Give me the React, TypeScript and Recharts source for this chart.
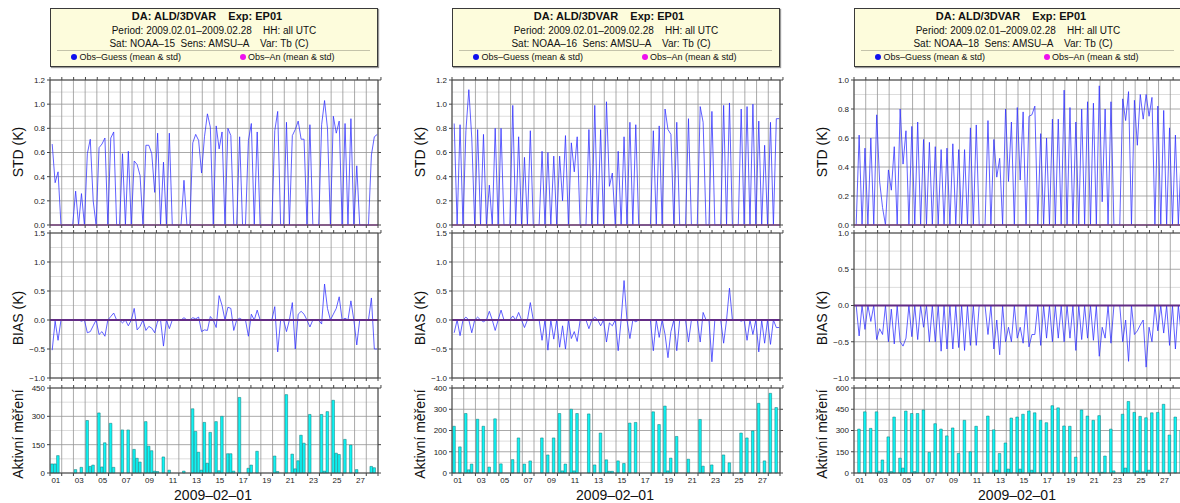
import React from 'react'
import { ComposedChart, Line, Bar, XAxis, YAxis, CartesianGrid, ReferenceLine } from 'recharts'

// 6-hourly values, 2009-02-01 00 UTC .. 2009-02-28 18 UTC (4 per day, 8 per row)
const DAY_LABELS = ['01', '03', '05', '07', '09', '11', '13', '15', '17', '19', '21', '23', '25', '27']

const STD_15 = [
  0.67, 0.35, 0.44, 0, 0, 0, 0, 0,
  0.28, 0, 0.26, 0, 0.59, 0.71, 0.2, 0,
  0.64, 0.67, 0.72, 0, 0.72, 0.77, 0, 0,
  0.59, 0, 0.61, 0, 0.53, 0.5, 0.41, 0,
  0.66, 0.66, 0.59, 0.27, 0.76, 0, 0.52, 0,
  0.76, 0, 0, 0, 0, 0.37, 0, 0,
  0.68, 0.75, 0.7, 0.43, 0.73, 0.92, 0.81, 0,
  0.82, 0.63, 0.77, 0, 0.8, 0.74, 0, 0,
  0.73, 0, 0, 0.7, 0.84, 0, 0.77, 0,
  0, 0, 0, 0, 0.78, 0.94, 0, 0,
  0.85, 0, 0.74, 0.79, 0.86, 0.71, 0.71, 0,
  0.83, 0, 0, 0, 0.83, 1.03, 0.8, 0,
  0.9, 0.76, 0.86, 0, 0.84, 0, 0.88, 0,
  0.49, 0, 0, 0, 0, 0.58, 0.73, 0.75,
]
const BIAS_15 = [
  -0.52, -0.02, -0.35, 0, 0, 0, 0, 0,
  0, 0, -0.02, 0, -0.22, -0.2, -0.1, 0,
  -0.25, -0.2, -0.28, 0, 0.06, 0.12, 0, 0,
  -0.05, 0, -0.1, 0, 0.2, -0.17, -0.11, 0,
  -0.18, -0.11, -0.14, -0.22, -0.02, 0, -0.45, 0,
  -0.15, 0, 0, 0, 0, 0.04, 0, 0,
  0.04, 0.02, 0.05, -0.2, -0.17, -0.18, 0.06, 0,
  -0.13, 0.42, 0.25, 0, 0.22, 0.2, -0.18, 0,
  0.03, 0, 0, -0.28, 0.1, 0, 0.17, 0,
  0, 0, 0, 0, 0.23, -0.55, 0, 0,
  -0.2, 0, 0.3, -0.5, 0.1, 0.15, 0.1, 0,
  -0.12, 0, 0, 0, -0.07, 0.62, 0.2, 0,
  0.1, 0.2, 0.4, 0, 0.03, 0, 0.33, 0,
  -0.43, 0, 0, 0, 0, 0.38, -0.5, -0.5,
]
const COUNT_15 = [
  48, 48, 92, 0, 0, 0, 0, 0,
  18, 0, 30, 0, 278, 35, 42, 0,
  318, 32, 160, 0, 263, 30, 0, 0,
  228, 0, 228, 0, 125, 78, 58, 0,
  272, 142, 118, 10, 8, 0, 85, 0,
  15, 0, 0, 0, 0, 10, 0, 0,
  340, 220, 110, 15, 268, 52, 215, 0,
  272, 12, 300, 0, 102, 102, 10, 0,
  400, 0, 0, 25, 42, 0, 115, 0,
  0, 0, 0, 0, 90, 8, 0, 0,
  415, 0, 100, 22, 65, 200, 158, 0,
  310, 0, 0, 0, 310, 10, 325, 0,
  385, 105, 98, 0, 178, 0, 148, 0,
  18, 0, 0, 0, 0, 35, 28, 0,
]

const STD_16 = [
  0.84, 0, 0.83, 0, 0.78, 1.12, 0.72, 0,
  0.79, 0, 0.75, 0, 0.33, 0, 0.8, 0,
  0.8, 0, 0, 0, 0.99, 0, 0.73, 0,
  0.56, 0, 0.78, 0, 0, 0, 0.61, 0,
  0.6, 0, 0.57, 0, 0.57, 0.2, 0.74, 0,
  0.68, 0.44, 0.73, 0, 0, 0, 0.79, 0,
  0.99, 0, 0.79, 0, 1.02, 0.32, 0.43, 0,
  0.61, 0, 0.73, 0, 0.85, 0, 0.83, 0,
  0, 0, 0, 0, 0.78, 0, 0.82, 0,
  0.96, 0.79, 0.75, 0, 0.85, 0, 0, 0,
  0.88, 0, 0, 0, 0.98, 0.85, 0, 0,
  0.94, 0, 0, 0, 0.99, 0, 1.01, 0,
  0, 0, 0.96, 0, 0.98, 0, 1.0, 0,
  0.86, 0, 0.66, 0, 0.85, 0, 0.88, 0.88,
]
const BIAS_16 = [
  -0.22, 0, -0.27, 0, 0.05, 0, -0.22, 0,
  0.05, 0, -0.03, 0, 0.15, 0, -0.18, 0,
  0.17, 0, 0, 0, 0.07, 0, 0.13, 0,
  -0.13, 0, 0.3, 0, 0, 0, -0.35, 0,
  -0.52, 0, -0.33, 0, -0.47, -0.1, -0.5, 0,
  -0.32, -0.2, -0.37, 0, 0, 0, -0.15, 0,
  0.05, 0, -0.1, 0, -0.38, -0.05, -0.1, 0,
  -0.53, 0, 0.68, 0, -0.32, 0, -0.03, 0,
  0, 0, 0, 0, -0.53, 0, -0.3, 0,
  -0.25, -0.65, -0.2, 0, -0.53, 0, 0, 0,
  -0.38, 0, 0, 0, -0.38, 0.13, 0, 0,
  -0.72, 0, 0, 0, -0.4, 0, 0.55, 0,
  0, 0, -0.02, 0, -0.35, 0, -0.25, 0,
  -0.55, 0, -0.4, 0, -0.42, 0, -0.13, -0.13,
]
const COUNT_16 = [
  220, 0, 123, 0, 280, 15, 42, 0,
  253, 0, 220, 0, 28, 0, 255, 0,
  43, 0, 0, 0, 63, 0, 165, 0,
  42, 0, 57, 0, 0, 0, 165, 0,
  85, 0, 165, 0, 280, 10, 42, 0,
  300, 10, 280, 0, 0, 0, 278, 0,
  38, 0, 188, 0, 62, 8, 8, 0,
  57, 0, 45, 0, 235, 0, 238, 0,
  0, 0, 0, 0, 288, 0, 228, 0,
  315, 10, 70, 0, 172, 0, 0, 0,
  65, 0, 0, 0, 252, 32, 0, 0,
  38, 0, 0, 0, 85, 0, 48, 0,
  0, 0, 188, 0, 165, 0, 198, 0,
  328, 0, 57, 0, 375, 0, 308, 0,
]

const STD_18 = [
  0, 0.62, 0, 0.53, 0, 0.6, 0, 0.76,
  0.3, 0.12, 0, 0.38, 0.24, 0.54, 0, 0.8,
  0.42, 0.65, 0, 0.68, 0, 0.71, 0, 0.59,
  0, 0.57, 0, 0.54, 0, 0.52, 0, 0.53,
  0, 0.56, 0, 0.52, 0, 0.52, 0, 0.67,
  0, 0.69, 0, 0, 0, 0.72, 0, 0.59,
  0.33, 0.46, 0, 0.8, 0.3, 0.71, 0, 0.81,
  0.31, 0.78, 0, 0.75, 0.76, 0.82, 0, 0.63,
  0, 0.6, 0, 0.73, 0, 0.73, 0, 0.93,
  0, 0.81, 0, 0.71, 0, 0.8, 0, 0.85,
  0, 0.84, 0, 0.96, 0.16, 0.8, 0, 0.85,
  0, 0, 0, 0.87, 0.72, 0.92, 0, 0.86,
  0.55, 0.9, 0.73, 0.9, 0.75, 0.88, 0, 0.82,
  0, 0.79, 0, 0.67, 0, 0.62, 0, 0.5,
]
const BIAS_18 = [
  0, -0.42, 0, -0.33, 0, -0.22, 0, -0.47,
  -0.32, -0.4, 0, -0.5, -0.05, -0.53, 0, -0.5,
  -0.56, -0.45, 0, -0.43, 0, -0.47, 0, -0.3,
  0, -0.5, 0, -0.5, 0, -0.63, 0, -0.6,
  0, -0.6, 0, -0.58, 0, -0.62, 0, -0.55,
  0, -0.55, 0, 0, 0, -0.4, 0, -0.6,
  -0.2, -0.68, 0, -0.5, -0.3, -0.5, 0, -0.45,
  -0.3, -0.52, 0, -0.57, -0.4, -0.4, 0, -0.55,
  0, -0.45, 0, -0.5, 0, -0.45, 0, -0.5,
  0, -0.45, 0, -0.62, 0, -0.47, 0, -0.45,
  0, -0.48, 0, -0.7, -0.3, -0.45, 0, -0.52,
  0, 0, 0, -0.5, -0.2, -0.77, 0, -0.4,
  -0.35, -0.27, -0.2, -0.85, -0.3, -0.5, 0, -0.35,
  0, -0.38, 0, -0.55, 0, -0.6, 0, -0.4,
]
const COUNT_18 = [
  0, 310, 0, 432, 0, 315, 0, 432,
  12, 92, 0, 255, 10, 395, 0, 105,
  35, 437, 0, 420, 10, 420, 0, 445,
  0, 145, 0, 348, 0, 310, 0, 262,
  0, 318, 0, 138, 0, 372, 0, 150,
  0, 330, 0, 0, 0, 402, 0, 305,
  20, 138, 0, 212, 28, 388, 0, 395,
  28, 415, 0, 438, 20, 425, 0, 372,
  0, 355, 0, 475, 0, 460, 0, 332,
  0, 330, 0, 112, 0, 445, 0, 402,
  0, 372, 0, 405, 5, 120, 0, 310,
  15, 0, 0, 415, 35, 505, 0, 428,
  15, 400, 8, 390, 20, 425, 0, 428,
  0, 485, 0, 268, 0, 395, 0, 300,
]

const STD_TICKS_12 = [0, 0.2, 0.4, 0.6, 0.8, 1.0, 1.2]
const STD_MINOR_12 = [0.1, 0.3, 0.5, 0.7, 0.9, 1.1]
const STD_TICKS_10 = [0, 0.2, 0.4, 0.6, 0.8, 1.0]
const STD_MINOR_10 = [0.1, 0.3, 0.5, 0.7, 0.9]
const BIAS_TICKS_15 = [-1, -0.5, 0, 0.5, 1, 1.5]
const BIAS_MINOR_15 = [-0.75, -0.25, 0.25, 0.75, 1.25]
const BIAS_TICKS_10 = [-1, -0.5, 0, 0.5, 1]
const BIAS_MINOR_10 = [-0.75, -0.25, 0.25, 0.75]
const COUNT_TICKS_450 = [0, 150, 300, 450]
const COUNT_MINOR_450 = [75, 225, 375]
const COUNT_TICKS_400 = [0, 100, 200, 300, 400]
const COUNT_MINOR_400 = [50, 150, 250, 350]
const COUNT_TICKS_600 = [0, 150, 300, 450, 600]
const COUNT_MINOR_600 = [75, 225, 375, 525]

const DAY_TICKS = Array.from({ length: 29 }, (_, d) => d * 4)

const FONT = '"Liberation Sans", Arial, Helvetica, sans-serif'
const PLOT_W = 328
const DAY_PX = PLOT_W / 28

const panels = [
  {
    left: 50, sat: 'NOAA–15', std: STD_15, bias: BIAS_15, count: COUNT_15,
    stdTicks: STD_TICKS_12, stdMinor: STD_MINOR_12,
    biasTicks: BIAS_TICKS_15, biasMinor: BIAS_MINOR_15,
    countTicks: COUNT_TICKS_450, countMinor: COUNT_MINOR_450,
  },
  {
    left: 452, sat: 'NOAA–16', std: STD_16, bias: BIAS_16, count: COUNT_16,
    stdTicks: STD_TICKS_12, stdMinor: STD_MINOR_12,
    biasTicks: BIAS_TICKS_15, biasMinor: BIAS_MINOR_15,
    countTicks: COUNT_TICKS_400, countMinor: COUNT_MINOR_400,
  },
  {
    left: 854, sat: 'NOAA–18', std: STD_18, bias: BIAS_18, count: COUNT_18,
    stdTicks: STD_TICKS_10, stdMinor: STD_MINOR_10,
    biasTicks: BIAS_TICKS_10, biasMinor: BIAS_MINOR_10,
    countTicks: COUNT_TICKS_600, countMinor: COUNT_MINOR_600,
  },
]

const EmptyTick = () => <g />

function DayTick(props: any) {
  const { x, y, payload } = props
  const d = Math.round(payload.value / 4)
  if (d % 2 !== 0 || d >= 28) return <g />
  return (
    <text x={x + DAY_PX / 2} y={y} dy="0.71em" textAnchor="middle" fontSize={8} fill="#222" fontFamily={FONT}>
      {DAY_LABELS[d / 2]}
    </text>
  )
}

const fmt1 = (v: number) => (v < 0 ? '−' + Math.abs(v).toFixed(1) : v.toFixed(1))

function Plot({ rows, kind, ticks, minor, height, top, left, fmt }: any) {
  const domain = [ticks[0], ticks[ticks.length - 1]]
  const bottomH = kind === 'count' ? 14 : 4
  return (
    <div style={{ position: 'absolute', left: left - 50, top }}>
      <ComposedChart width={388} height={height} data={rows} margin={{ top: 0, right: 6, bottom: 0, left: 0 }}>
        <CartesianGrid vertical={false} horizontalValues={minor} stroke="#d4d4d4" strokeWidth={0.8} />
        <CartesianGrid horizontalValues={ticks} verticalValues={DAY_TICKS} stroke="#949494" strokeWidth={0.8} />
        <XAxis
          dataKey="x" type="number" domain={[0, 112]} ticks={DAY_TICKS} interval={0}
          height={bottomH} tickSize={3} tickMargin={1}
          tick={kind === 'count' ? DayTick : EmptyTick}
          stroke="#444"
        />
        <XAxis
          xAxisId="t" orientation="top" type="number" domain={[0, 112]} ticks={DAY_TICKS} interval={0}
          height={4} tickSize={3} tick={EmptyTick} stroke="#444" allowDataOverflow
        />
        <YAxis
          type="number" domain={domain} ticks={ticks} interval={0} width={50}
          tickSize={3} tickMargin={2} stroke="#444"
          tick={{ fontSize: 8, fill: '#222', fontFamily: FONT }}
          tickFormatter={fmt}
        />
        <YAxis
          yAxisId="r" orientation="right" type="number" domain={domain} ticks={ticks} interval={0}
          width={4} tickSize={3} tick={EmptyTick} stroke="#444" allowDataOverflow
        />
        {kind === 'count' && (
          <Bar dataKey="n" barSize={2.6} fill="#10f4f4" stroke="#0d7474" strokeWidth={0.5} isAnimationActive={false} />
        )}
        {kind !== 'count' && (
          <Line
            dataKey={kind} type="linear" dot={false} stroke="#2f2fff" strokeWidth={0.9}
            strokeOpacity={0.85} isAnimationActive={false}
          />
        )}
        {kind === 'std' && <ReferenceLine y={0} stroke="#c25bcc" strokeWidth={1.5} />}
        {kind === 'bias' && <ReferenceLine y={0} stroke="#632c85" strokeWidth={2} />}
      </ComposedChart>
    </div>
  )
}

function Header({ left, sat }: { left: number; sat: string }) {
  const line = { position: 'absolute' as const, left: 0, width: '100%', textAlign: 'center' as const, whiteSpace: 'pre' as const }
  return (
    <div
      style={{
        position: 'absolute', left, top: 8, width: 328, height: 59, boxSizing: 'border-box',
        background: '#fdfcdc', border: '1.5px solid #3a3a3a', boxShadow: '1px 1px 1px #999',
        fontFamily: FONT, color: '#111',
      }}
    >
      <div style={{ ...line, top: 0.5, fontSize: 11, lineHeight: '13px', fontWeight: 'bold', marginLeft: -7 }}>
        {'DA: ALD/3DVAR    Exp: EP01'}
      </div>
      <div style={{ ...line, top: 15.5, fontSize: 10, lineHeight: '12px' }}>
        {'Period: 2009.02.01–2009.02.28    HH: all UTC'}
      </div>
      <div style={{ ...line, top: 28.5, fontSize: 10, lineHeight: '12px', marginLeft: -5 }}>
        {'Sat: ' + sat + '  Sens: AMSU–A    Var: Tb (C)'}
      </div>
      <div style={{ position: 'absolute', top: 40.5, left: 5.5, width: 313, height: 1, background: '#c4c3aa' }} />
      <div style={{ position: 'absolute', top: 45, left: 19.5, width: 6, height: 6, borderRadius: 3, background: '#1010ee' }} />
      <div style={{ position: 'absolute', top: 43, left: 28.5, fontSize: 9, lineHeight: '10px', whiteSpace: 'nowrap' }}>
        Obs–Guess (mean &amp; std)
      </div>
      <div style={{ position: 'absolute', top: 45, left: 188.5, width: 6, height: 6, borderRadius: 3, background: '#ee10ee' }} />
      <div style={{ position: 'absolute', top: 43, left: 197, fontSize: 9, lineHeight: '10px', whiteSpace: 'nowrap' }}>
        Obs–An (mean &amp; std)
      </div>
    </div>
  )
}

function VLabel({ x, y, text }: { x: number; y: number; text: string }) {
  return (
    <div
      style={{
        position: 'absolute', left: x, top: y, transform: 'translate(-50%, -50%) rotate(-90deg)',
        fontSize: 14, fontFamily: FONT, color: '#111', whiteSpace: 'nowrap',
      }}
    >
      {text}
    </div>
  )
}

function Panel({ p }: { p: any }) {
  const rows = p.std.map((s: number, i: number) => ({ x: i + 0.75, std: s, bias: p.bias[i], n: p.count[i] }))
  return (
    <>
      <Header left={p.left} sat={p.sat} />
      <Plot rows={rows} kind="std" ticks={p.stdTicks} minor={p.stdMinor} top={76} height={153} left={p.left} fmt={fmt1} />
      <Plot rows={rows} kind="bias" ticks={p.biasTicks} minor={p.biasMinor} top={229} height={153} left={p.left} fmt={fmt1} />
      <Plot rows={rows} kind="count" ticks={p.countTicks} minor={p.countMinor} top={384} height={103} left={p.left} fmt={(v: number) => String(v)} />
      <VLabel x={p.left - 32} y={152} text="STD (K)" />
      <VLabel x={p.left - 32} y={318} text="BIAS (K)" />
      <VLabel x={p.left - 32} y={434} text="Aktivní měření" />
      <div
        style={{
          position: 'absolute', left: p.left + PLOT_W / 2 - 1, top: 495, transform: 'translate(-50%, -50%)',
          fontSize: 14, fontFamily: FONT, color: '#111', whiteSpace: 'nowrap',
        }}
      >
        2009–02–01
      </div>
    </>
  )
}

export default function App() {
  return (
    <div style={{ position: 'absolute', left: 0, top: 0, width: 1180, height: 503, overflow: 'hidden', background: '#fff' }}>
      {panels.map((p) => (
        <Panel key={p.sat} p={p} />
      ))}
    </div>
  )
}
